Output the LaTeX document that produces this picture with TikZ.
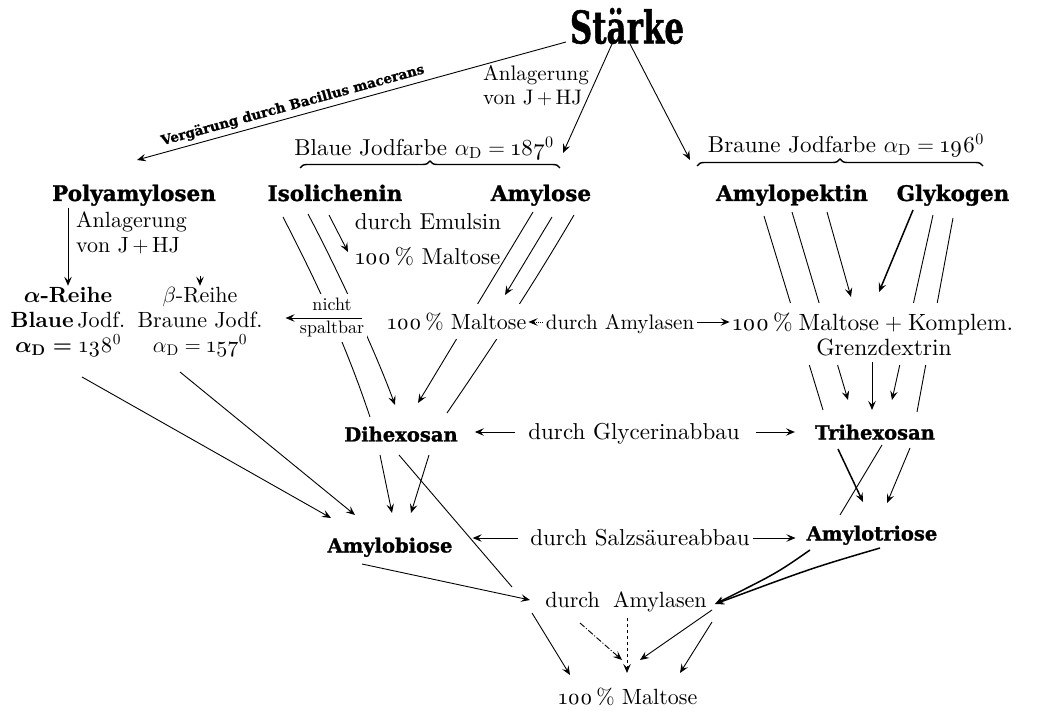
\RequirePackage{fix-cm}
\documentclass[tikz,border=0pt]{standalone}
\usepackage{graphicx}
\usepackage{fontspec}
\setmainfont{lmroman10-regular}[Extension=.otf, BoldFont=lmroman10-bold, ItalicFont=lmroman10-italic, BoldItalicFont=lmroman10-bolditalic]
\newfontfamily\heavy{DejaVu Serif}[BoldFeatures={FakeBold=1.2}]
\usetikzlibrary{arrows.meta,decorations.pathreplacing,backgrounds,calc}
\newcommand{\osn}[1]{\oldstylenums{#1}}
\newcommand{\aD}{$\alpha_{\mathrm{D}}={}$}
\begin{document}
\begin{tikzpicture}[x=1pt,y=-1pt,
  every node/.style={inner sep=1pt},
  big/.style={font=\heavy\bfseries\fontsize{21.5}{26}\selectfont, text height=16pt, text depth=0pt},
  mid/.style={font=\heavy\bfseries\fontsize{19.5}{24}\selectfont, text height=15pt, text depth=0pt},
  txt/.style={font=\fontsize{23}{25}\selectfont, text height=15pt, text depth=0pt},
  txtm/.style={font=\fontsize{22}{25}\selectfont},
  sml/.style={font=\fontsize{18}{23}\selectfont},
  mask/.style={fill=white},
  ln/.style={line width=0.9pt},
  thk/.style={line width=1.5pt},
  tip/.tip={Stealth[length=9pt,width=7.5pt,inset=3.5pt]},
  arr/.style={ln,-tip},
  rarr/.style={ln,tip-},
  brc/.style={line width=1.4pt, decorate, decoration={brace,amplitude=7pt}},
]
\useasboundingbox (0,0) rectangle (1037,711);

% ---------- nodes ----------
\node[inner sep=0pt] (st) at (627,26) {\scalebox{0.86}[1.25]{\heavy\bfseries\fontsize{36}{40}\selectfont Stärke}};
\node[txtm, font=\fontsize{21}{24}\selectfont, align=left] (anl) at (536,86) {Anlagerung\\von J\,$+$\,HJ};
\node[txt] (blaue) at (424,148) {Blaue Jodfarbe \aD\osn{187}\textsuperscript{0}};
\node[txt] (braune) at (846,145) {Braune Jodfarbe \aD\osn{196}\textsuperscript{0}};

\node[big] (poly) at (134,193) {Polyamylosen};
\node[big] (iso) at (335,193) {Isolichenin};
\node[big] (amy) at (541,193) {Amylose};
\node[big] (apek) at (792,193) {Amylopektin};
\node[big] (glyk) at (953,193) {Glykogen};

\node[txtm, align=left, anchor=west] (anl2) at (75,233) {Anlagerung\\von J\,$+$\,HJ};
\node[txtm, align=center] (alpha) at (68,322) {{\bfseries\boldmath$\alpha$-Reihe}\\{\bfseries Blaue}\,Jodf.\\{\bfseries\boldmath\aD}\osn{138}\textsuperscript{0}};
\node[txtm, align=center] (beta) at (200,322) {$\beta$-Reihe\\Braune Jodf.\\\aD\osn{157}\textsuperscript{0}};

\node[txt] (emu) at (428,222) {durch Emulsin};
\node[txt] (m1) at (428,257) {\osn{100}\,\% Maltose};
\node[sml, align=center, mask, inner xsep=3pt, inner ysep=5pt] (nsp) at (332,318) {nicht\\spaltbar};
\node[txt, font=\fontsize{22}{25}\selectfont, mask, inner ysep=10pt] (m2) at (457,322) {\osn{100}\,\% Maltose};
\node[txt, font=\fontsize{21}{24}\selectfont] (da) at (620,322) {durch Amylasen};
\node[txtm, font=\fontsize{23.5}{25}\selectfont, align=center, mask, inner ysep=9pt] (mk) at (873,334) {\osn{100}\hspace{4pt}\%\hspace{6pt}Maltose\hspace{6pt}$+$\hspace{6pt}Komplem.\\\hspace*{22pt}Grenzdextrin};

\node[mid] (dih) at (401,434) {Dihexosan};
\node[txt] (glyc) at (634,432) {durch Glycerinabbau};
\node[mid] (tri) at (875,432) {Trihexosan};

\node[mid] (abiose) at (390,545) {Amylobiose};
\node[txt] (salz) at (640,538) {durch Salzsäureabbau};
\node[mid] (atri) at (872,533) {Amylotriose};

\node[txt, font=\fontsize{22}{25}\selectfont] (da2) at (626,600) {durch\hspace{6pt} Amylasen};
\node[txt, font=\fontsize{22}{25}\selectfont] (mb) at (628,697) {\osn{100}\,\% Maltose};

% ---------- connectors behind text ----------
\begin{scope}[on background layer]
\draw[rarr] ($(poly)+(3,-33)$) -- node[pos=0.37, sloped, above=3pt, font=\heavy\bfseries\fontsize{13.5}{15}\selectfont] (verg) {Vergärung durch Bacillus macerans} ($(st)+(-61,16)$);
\draw[arr] ($(st)+(-15,18)$) -- ($(blaue)+(139,5)$);
\draw[arr] ($(st)+(3,18)$) -- ($(braune)+(-156,15)$);

\draw[arr] ($(poly)+(-66,15)$) -- (alpha.north);
\draw[arr] ($(beta.north)+(0,-10)$) -- (beta.north);

% Isolichenin
\draw[ln] ($(iso)+(-52,24)$) .. controls ($(iso)+(-17,92)$) and ($(dih)+(-55,-89)$) .. ($(dih)+(-31,-17)$);
\draw[arr] ($(iso)+(-27,21)$) .. controls ($(iso)+(0,72)$) and ($(dih)+(-26,-84)$) .. ($(dih)+(-6,-29)$);
\draw[arr] ($(iso)+(-6,22)$) -- ($(m1)+(-80,-5)$);
% Amylose
\draw[arr] ($(amy)+(-8,19)$) -- ($(dih)+(17,-31)$);
\draw[arr] ($(amy)+(11,24)$) -- ($(m2)+(48,-27)$);
\draw[ln] ($(amy)+(33,22)$) .. controls ($(amy)+(-11,97)$) and ($(dih)+(89,-84)$) .. ($(dih)+(46,-21)$);
% Amylopektin / Glykogen
\draw[ln] ($(apek)+(-28,23)$) -- ($(tri)+(-52,-22)$);
\draw[arr] ($(apek)+(0,19)$) -- ($(tri)+(-27,-32)$);
\draw[arr] ($(apek)+(35,19)$) -- ($(mk)+(-22,-37)$);
\draw[arr,thk] ($(glyk)+(-40,17)$) -- ($(mk)+(6,-42)$);
\draw[arr] ($(glyk)+(-20,22)$) -- ($(tri)+(17,-32)$);
\draw[ln] ($(glyk)+(0,25)$) -- ($(tri)+(42,-20)$);

% Dihexosan -> Amylobiose
\draw[arr] ($(dih)+(-21,21)$) -- ($(abiose)+(2,-32)$);
\draw[arr] ($(dih)+(28,21)$) -- ($(abiose)+(21,-32)$);
\draw[ln] ($(dih)+(-2,21)$) -- ($(da2)+(-114,-13)$);
% alpha / beta -> Amylobiose
\draw[arr] ($(alpha)+(14,55)$) -- ($(abiose)+(-59,-27)$);
\draw[arr] ($(beta)+(-20,50)$) -- ($(abiose)+(-35,-30)$);
% Amylobiose -> durch Amylasen
\draw[arr] ($(abiose)+(-28,19)$) -- ($(da2)+(-96,0)$);
% Trihexosan -> Amylotriose
\draw[arr,thk] ($(tri)+(-37,17)$) -- ($(atri)+(-9,-31)$);
\draw[ln] ($(tri)+(7,13)$) -- ($(atri)+(-32,-18)$);
\draw[arr] ($(tri)+(35,16)$) -- ($(atri)+(15,-30)$);
% Amylotriose -> durch Amylasen
\draw[arr,thk] ($(atri)+(-62,17)$) .. controls ($(atri)+(-95,40)$) .. ($(da2)+(89,4)$);
\draw[arr,thk] ($(atri)+(8,15)$) .. controls ($(atri)+(-60,35)$) .. ($(da2)+(89,4)$);
% durch Amylasen -> 100 % Maltose
\draw[arr] ($(da2)+(-94,13)$) -- ($(mb)+(-58,-22)$);
\draw[arr, dash pattern=on 6pt off 2pt on 1pt off 2pt] ($(da2)+(-46,23)$) -- ($(mb)+(-6,-37)$);
\draw[arr, dashed] ($(da2)+(1,18)$) -- ($(mb)+(-1,-24)$);
\draw[arr] ($(da2)+(86,10)$) -- ($(mb)+(12,-37)$);
\draw[arr] ($(da2)+(86,22)$) -- ($(mb)+(52,-24)$);
\end{scope}

% ---------- connectors in front ----------
\draw[brc] ($(blaue)+(-124,20)$) -- ($(blaue)+(136,20)$);
\draw[brc] ($(braune)+(-149,21)$) -- ($(braune)+(137,21)$);
\draw[arr, line width=0.6pt, shorten >=22pt] ($(nsp)+(30,0)$) -- (nsp.center -| beta.east);
\draw[arr, densely dotted, shorten <=2pt, shorten >=1pt] (da.west) -- (da.west -| m2.east);
\draw[arr, shorten <=2pt, shorten >=2pt] (da.east) -- (da.east -| mk.west);
\draw[arr] ($(mk)+(-1,28)$) -- ($(tri)+(-3,-22)$);
\draw[arr, shorten <=12pt, shorten >=16pt] (glyc.west) -- (glyc.west -| dih.east);
\draw[arr, shorten <=15pt, shorten >=19pt] (glyc.east) -- (glyc.east -| tri.west);
\draw[arr, shorten <=11pt, shorten >=19pt] (salz.west) -- (salz.west -| abiose.east);
\draw[arr, shorten <=2pt, shorten >=10pt] (salz.east) -- (salz.east -| atri.west);
\end{tikzpicture}
\end{document}
